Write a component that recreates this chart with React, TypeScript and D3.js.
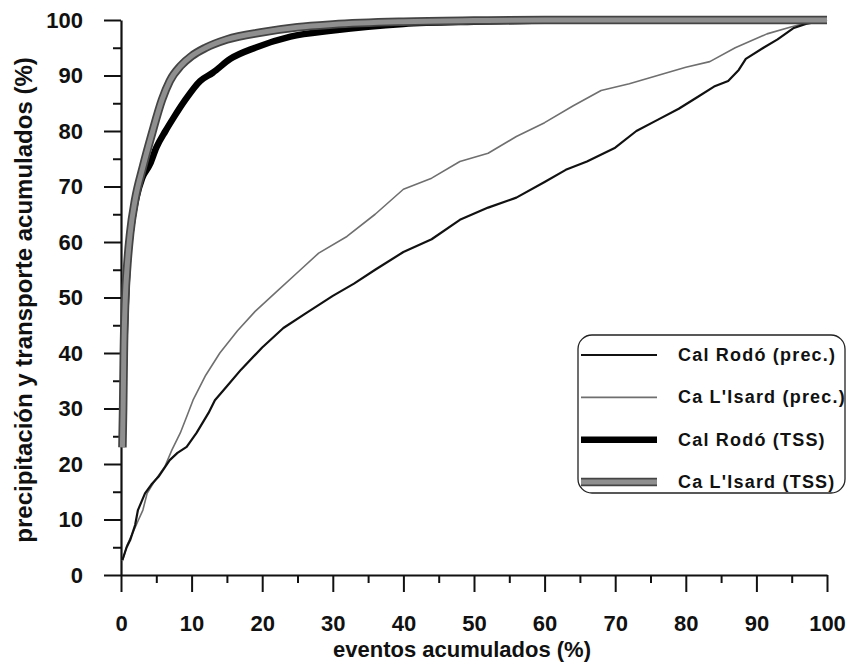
import React, { useEffect, useRef } from "react";
import * as d3 from "d3";

const majorTicks = [0, 10, 20, 30, 40, 50, 60, 70, 80, 90, 100];
const minorTicks = [5, 15, 25, 35, 45, 55, 65, 75, 85, 95];

// [eventos %, acumulado %]
const calRodoPrec = [
  [0.2, 2.7], [0.8, 5], [1.3, 6.3], [2.0, 9], [2.4, 11.7], [3.4, 14.7], [4.3, 16.3], [5.3, 17.7],
  [6.9, 20.7], [8.0, 22], [9.3, 23.1], [10.7, 25.6], [12.4, 29.2], [13.3, 31.5], [15, 34], [17, 37],
  [20, 41], [23, 44.5], [26, 47], [30, 50.3], [33, 52.5], [36, 55], [40, 58.2], [44, 60.5],
  [48, 64], [52, 66.2], [56, 68], [60, 70.8], [63, 73], [66, 74.5], [70, 77], [73, 80],
  [76, 82], [79, 84], [81.5, 86], [84, 88], [86, 89], [87.5, 91], [88.5, 93], [91, 95],
  [93, 96.5], [95.2, 98.5], [97, 99.3], [100, 100],
];

const caLIsardPrec = [
  [0.2, 2.5], [0.9, 5.5], [1.8, 8], [2.5, 10], [3.1, 11.7], [3.7, 14.7], [4.8, 17], [6.2, 19.5],
  [7.2, 22.5], [8.4, 25.6], [9.3, 28.5], [10.2, 31.5], [12, 36], [14, 40], [16.5, 44], [19, 47.5],
  [22, 51], [25, 54.5], [28, 58], [32, 61], [36, 65], [40, 69.5], [44, 71.5], [48, 74.5],
  [52, 76], [56, 79], [60, 81.5], [64, 84.5], [68, 87.3], [72, 88.5], [76, 90], [80, 91.5],
  [83.4, 92.5], [87, 95], [91.5, 97.5], [95, 98.8], [98.6, 100], [100, 100],
];

const calRodoTss = [
  [0.3, 32], [0.5, 42], [0.9, 55], [1.5, 63], [2.2, 68], [3, 71.5], [4.1, 74], [5, 77],
  [6.3, 80], [7.5, 82.5], [9.1, 85.6], [11.2, 89], [13, 90.5], [15.5, 93], [19, 95], [24, 97],
  [30, 98.1], [35, 98.8], [40, 99.3], [50, 99.7], [60, 99.9], [70, 100], [100, 100],
];

const caLIsardTss = [
  [0.2, 23], [0.3, 30], [0.4, 40], [0.6, 49.5], [0.9, 56], [1.3, 61.6], [2.0, 67.6], [3.1, 73.5],
  [4.4, 79.6], [5.8, 85.6], [6.9, 89], [8.5, 91.8], [10, 93.5], [12, 95], [15, 96.5], [20, 97.8],
  [25, 98.7], [30, 99.2], [40, 99.7], [50, 99.9], [60, 100], [100, 100],
];

const legendLabels = ["Cal Rodó (prec.)", "Ca L'Isard (prec.)", "Cal Rodó (TSS)", "Ca L'Isard (TSS)"];

const FONT = "'Liberation Sans', Arial, Helvetica, sans-serif";

function App() {
  const ref = useRef<SVGSVGElement>(null);

  useEffect(() => {
    const width = 847;
    const height = 664;
    const svg = d3.select(ref.current).attr("width", width).attr("height", height);
    svg.selectAll("*").remove();

    const x = d3.scaleLinear().domain([0, 100]).range([121, 827]);
    const y = d3.scaleLinear().domain([0, 100]).range([575, 20]);

    // minor ticks
    svg.append("g")
      .attr("transform", "translate(121,0)")
      .call(d3.axisLeft(y).tickValues(minorTicks).tickSize(8).tickSizeOuter(0).tickFormat(() => ""))
      .call((g) => g.select(".domain").remove());
    svg.append("g")
      .attr("transform", "translate(0,575)")
      .call(d3.axisBottom(x).tickValues(minorTicks).tickSize(8).tickSizeOuter(0).tickFormat(() => ""))
      .call((g) => g.select(".domain").remove());

    // major ticks with labels
    const yAxis = svg.append("g")
      .attr("transform", "translate(121,0)")
      .call(d3.axisLeft(y).tickValues(majorTicks).tickSize(17).tickSizeOuter(0).tickPadding(21).tickFormat(d3.format("d")));
    const xAxis = svg.append("g")
      .attr("transform", "translate(0,575)")
      .call(d3.axisBottom(x).tickValues(majorTicks).tickSize(17).tickSizeOuter(0).tickPadding(23).tickFormat(d3.format("d")));

    svg.selectAll(".tick line").attr("stroke", "#111").attr("stroke-width", 2);
    svg.selectAll(".domain").attr("stroke", "#111").attr("stroke-width", 2.2);
    [yAxis, xAxis].forEach((g) =>
      g.selectAll("text")
        .attr("font-family", FONT)
        .attr("font-weight", "bold")
        .attr("font-size", 22)
        .attr("fill", "#111")
    );

    const line = d3.line<number[]>().x((d) => x(d[0])).y((d) => y(d[1]));
    const smooth = d3.line<number[]>().x((d) => x(d[0])).y((d) => y(d[1])).curve(d3.curveMonotoneX);

    svg.append("path").datum(caLIsardPrec).attr("d", line)
      .attr("fill", "none").attr("stroke", "#6f6f6f").attr("stroke-width", 1.6).attr("stroke-linejoin", "round");
    svg.append("path").datum(calRodoPrec).attr("d", line)
      .attr("fill", "none").attr("stroke", "#111").attr("stroke-width", 2.2).attr("stroke-linejoin", "round");
    svg.append("path").datum(calRodoTss).attr("d", smooth)
      .attr("fill", "none").attr("stroke", "#000").attr("stroke-width", 6.5).attr("stroke-linecap", "butt");
    svg.append("path").datum(caLIsardTss).attr("d", smooth)
      .attr("fill", "none").attr("stroke", "#444").attr("stroke-width", 8.5);
    svg.append("path").datum(caLIsardTss).attr("d", smooth)
      .attr("fill", "none").attr("stroke", "#8f8f8f").attr("stroke-width", 5);

    // axis titles
    svg.append("text")
      .attr("x", 462).attr("y", 657)
      .attr("text-anchor", "middle")
      .attr("font-family", FONT).attr("font-weight", "bold").attr("font-size", 22).attr("fill", "#111")
      .text("eventos acumulados (%)");
    svg.append("text")
      .attr("transform", "translate(32,300) rotate(-90)")
      .attr("text-anchor", "middle")
      .attr("font-family", FONT).attr("font-weight", "bold").attr("font-size", 24).attr("fill", "#111")
      .text("precipitación y transporte acumulados (%)");

    // legend
    const legend = svg.append("g");
    legend.append("rect")
      .attr("x", 578).attr("y", 335).attr("width", 267).attr("height", 158).attr("rx", 14)
      .attr("fill", "white").attr("stroke", "#222").attr("stroke-width", 1.3);
    const rowY = d3.scalePoint<string>().domain(legendLabels).range([355, 482]);
    const sample = [
      [{ c: "#111", w: 2.2 }],
      [{ c: "#6f6f6f", w: 1.6 }],
      [{ c: "#000", w: 6.5 }],
      [{ c: "#444", w: 8.5 }, { c: "#8f8f8f", w: 5 }],
    ];
    legendLabels.forEach((label, i) => {
      const ry = rowY(label) as number;
      sample[i].forEach((s) => {
        legend.append("line").attr("x1", 581).attr("x2", 657).attr("y1", ry).attr("y2", ry)
          .attr("stroke", s.c).attr("stroke-width", s.w);
      });
      legend.append("text")
        .attr("x", 678).attr("y", ry + 6)
        .attr("font-family", FONT).attr("font-weight", "bold").attr("font-size", 18)
        .attr("letter-spacing", 1.2).attr("fill", "#111")
        .text(label);
    });
  }, []);

  return (
    <svg ref={ref} style={{ position: "absolute", left: 0, top: 0, background: "white" }}></svg>
  );
}

export default App;
